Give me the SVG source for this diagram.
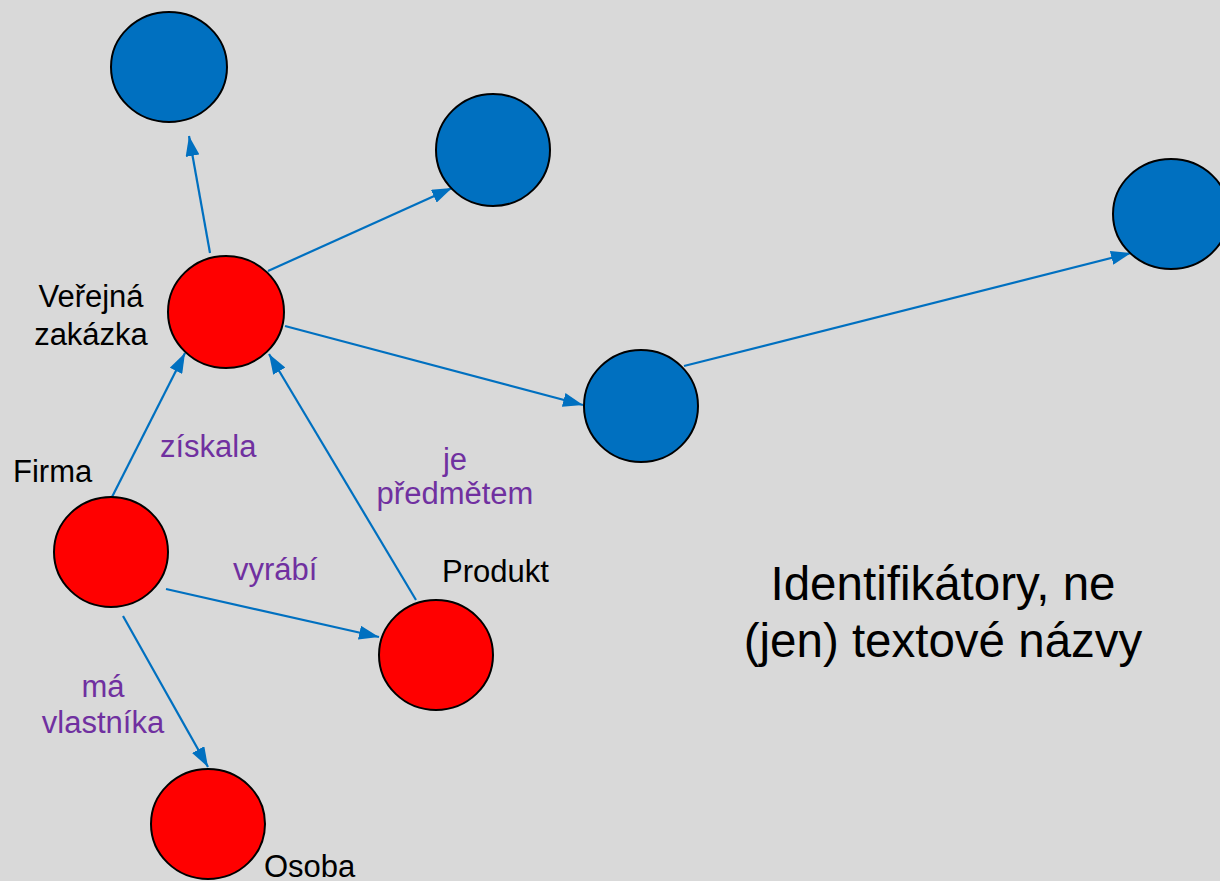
<svg xmlns="http://www.w3.org/2000/svg" width="1220" height="881" viewBox="0 0 1220 881">
<style>
.red{fill:#FF0000;stroke:#000;stroke-width:2}
.blue{fill:#0070C0;stroke:#000;stroke-width:2}
.edge{stroke:#0070C0;stroke-width:2.2;fill:none;marker-end:url(#arr)}
.lbl{font-family:"Liberation Sans",Arial,sans-serif;font-size:31px;fill:#000}
.rel{font-family:"Liberation Sans",Arial,sans-serif;font-size:31px;fill:#7030A0}
.big{font-family:"Liberation Sans",Arial,sans-serif;font-size:47.5px;fill:#000;text-anchor:middle}
</style>
<defs>
<marker id="arr" viewBox="0 0 20 14" refX="20" refY="7" markerWidth="20" markerHeight="14" markerUnits="userSpaceOnUse" orient="auto">
<path d="M0,0 L20,7 L0,14 z" fill="#0070C0"/>
</marker>
</defs>
<rect width="1220" height="881" fill="#D9D9D9"/>
<g id="connectors">
<line class="edge" x1="210" y1="253" x2="189" y2="136"/>
<line class="edge" x1="268" y1="271" x2="452" y2="188"/>
<line class="edge" x1="285" y1="326" x2="583" y2="405"/>
<line class="edge" x1="684" y1="366" x2="1131" y2="253"/>
<line class="edge" x1="112" y1="497" x2="185" y2="353"/>
<line class="edge" x1="416" y1="600" x2="269" y2="354"/>
<line class="edge" x1="166" y1="589" x2="379" y2="637"/>
<line class="edge" x1="123" y1="616" x2="208" y2="767"/>
</g>
<g id="n_top"><ellipse class="blue" cx="169" cy="67" rx="58" ry="55"/></g>
<g id="n_b2"><ellipse class="blue" cx="493" cy="150" rx="57" ry="56"/></g>
<g id="n_right"><ellipse class="blue" cx="1171" cy="214" rx="58" ry="55"/></g>
<g id="n_b4"><ellipse class="blue" cx="641" cy="406" rx="57" ry="56"/></g>
<g id="n_zakazka"><ellipse class="red" cx="226" cy="312" rx="58" ry="56"/>
<text class="lbl" x="91" y="307" text-anchor="middle">Veřejná</text>
<text class="lbl" x="91" y="345" text-anchor="middle">zakázka</text></g>
<g id="n_firma"><ellipse class="red" cx="111" cy="552" rx="57" ry="55"/>
<text class="lbl" x="13" y="482">Firma</text></g>
<g id="n_produkt"><ellipse class="red" cx="436" cy="655" rx="57" ry="55"/>
<text class="lbl" x="442" y="582">Produkt</text></g>
<g id="n_osoba"><ellipse class="red" cx="208" cy="824" rx="57" ry="55"/>
<text class="lbl" x="264" y="877">Osoba</text></g>
<g id="labels">
<text class="rel" x="160" y="457">získala</text>
<text class="rel" x="455" y="470" text-anchor="middle">je</text>
<text class="rel" x="455" y="504" text-anchor="middle">předmětem</text>
<text class="rel" x="233" y="580">vyrábí</text>
<text class="rel" x="103" y="697" text-anchor="middle">má</text>
<text class="rel" x="103" y="733" text-anchor="middle">vlastníka</text>
<text class="big" x="943" y="600">Identifikátory, ne</text>
<text class="big" x="943" y="657">(jen) textové názvy</text>
</g>
</svg>
